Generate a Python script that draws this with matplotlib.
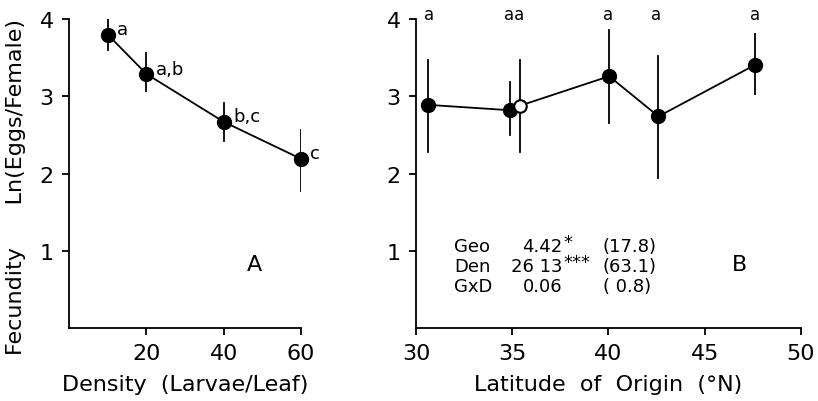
import matplotlib
matplotlib.use('Agg')
import matplotlib.pyplot as plt

plt.rcParams['font.family'] = ['DejaVu Sans']

# Panel A - fecundity vs larval density
densidade = [10, 20, 40, 60]
fec_dens = [3.80, 3.29, 2.67, 2.19]
err_sup_a = [4.00, 3.56, 2.91, 2.56]
err_inf_a = [3.60, 3.07, 2.42, 1.78]
letras_a = ['a', 'a,b', 'b,c', 'c']

# Panel B - fecundity vs latitude of origin
latitude = [30.6, 34.88, 35.42, 40.04, 42.6, 47.64]
fec_lat = [2.89, 2.82, 2.88, 3.26, 2.74, 3.41]
err_sup_b = [3.47, 3.19, 3.47, 3.86, 3.52, 3.81]
err_inf_b = [2.28, 2.50, 2.28, 2.66, 1.94, 3.03]
aberto = [False, False, True, False, False, False]
letras_b = ['a', 'aa', 'a', 'a', 'a']
letras_b_x = [30.7, 35.1, 40.0, 42.5, 47.6]

fonte_var = ['Geo', 'Den', 'GxD']
valor_f = ['4.42', '26 13', '0.06']
signif = ['*', '***', '']
perc_var = ['(17.8)', '(63.1)', '( 0.8)']

fs = 16
fig = plt.figure(figsize=(8.18, 4.02), dpi=100)

ax = fig.add_axes([0.0844, 0.1816, 0.2836, 0.7684])
ax2 = fig.add_axes([0.5086, 0.1816, 0.4704, 0.7684])

for a in [ax, ax2]:
    a.spines['top'].set_visible(False)
    a.spines['right'].set_visible(False)
    a.spines['left'].set_linewidth(1.3)
    a.spines['bottom'].set_linewidth(1.3)
    a.tick_params(direction='out', length=5, width=1.3, labelsize=fs, pad=6)
    a.set_ylim(0, 4)
    a.set_yticks([1, 2, 3, 4])

# ---- A
ax.set_xlim(0, 60)
ax.set_xticks([20, 40, 60])
ax.plot(densidade, fec_dens, 'k-', linewidth=1.3)
for i in range(len(densidade)):
    ax.plot([densidade[i], densidade[i]], [err_inf_a[i], err_sup_a[i]], 'k-', linewidth=1.3)
    ax.plot(densidade[i], fec_dens[i], 'ko', markersize=10, clip_on=False)
    ax.text(densidade[i] + 2.4, fec_dens[i] + 0.07, letras_a[i], fontsize=13,
            va='center', clip_on=False)
ax.text(48, 0.83, 'A', fontsize=fs, ha='center', va='center')
ax.set_xlabel('Density  (Larvae/Leaf)', fontsize=fs, labelpad=8)

# ---- B
ax2.set_xlim(30, 50)
ax2.set_xticks([30, 35, 40, 45, 50])
ax2.plot(latitude, fec_lat, 'k-', linewidth=1.3)
for i in range(len(latitude)):
    ax2.plot([latitude[i], latitude[i]], [err_inf_b[i], err_sup_b[i]], 'k-', linewidth=1.3)
    if aberto[i]:
        ax2.plot(latitude[i], fec_lat[i], 'o', markerfacecolor='white',
                 markeredgecolor='k', markeredgewidth=1.5, markersize=9, zorder=5)
    else:
        ax2.plot(latitude[i], fec_lat[i], 'ko', markersize=10, zorder=4)
for x, l in zip(letras_b_x, letras_b):
    ax2.text(x, 4.0, l, fontsize=12, ha='center', va='baseline', clip_on=False)

for j in range(len(fonte_var)):
    yy = 1.06 - j * 0.255
    ax2.text(31.97, yy, fonte_var[j], fontsize=13, va='center')
    ax2.text(37.6, yy, valor_f[j], fontsize=13, va='center', ha='right')
    ax2.text(37.65, yy + 0.05, signif[j], fontsize=13, va='center', ha='left')
    ax2.text(39.7, yy, perc_var[j], fontsize=13, va='center')
ax2.text(46.8, 0.83, 'B', fontsize=fs, ha='center', va='center')
ax2.set_xlabel('Latitude  of  Origin  (°N)', fontsize=fs, labelpad=8)

fig.text(0.02, 0.535, 'Fecundity      Ln(Eggs/Female)', rotation=90,
         fontsize=fs, ha='center', va='center')

fig.savefig('out.png', dpi=100)
